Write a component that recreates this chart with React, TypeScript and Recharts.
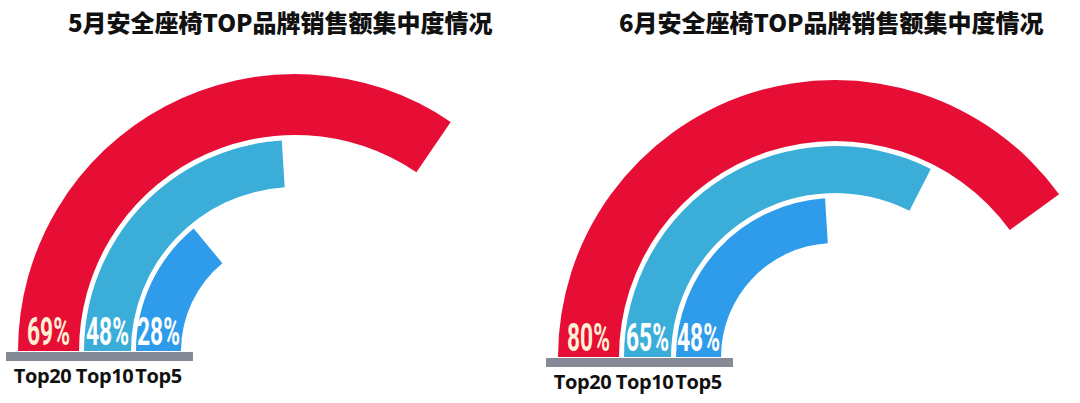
import React from "react";
import { RadialBarChart, RadialBar, PolarAngleAxis, LabelList } from "recharts";

// outer ring first, as in the legend under each gauge
const brands = ["Top20", "Top10", "Top5"];
const mayShare = [69, 48, 28];
const juneShare = [80, 65, 48];
const titles = [
  "5月安全座椅TOP品牌销售额集中度情况",
  "6月安全座椅TOP品牌销售额集中度情况",
];

const ringColor: Record<string, string> = {
  Top20: "#e60e34",
  Top10: "#3aaed8",
  Top5: "#2e9cea",
};
const ringWidth: Record<string, number> = { Top20: 61, Top10: 47, Top5: 45 };
const valueColor: Record<string, string> = {
  Top20: "#fff0d4",
  Top10: "#ffffff",
  Top5: "#ffffff",
};
// small nudge so the names under the gauge don't run together
const nameShift: Record<string, number> = { Top20: -6, Top10: -3, Top5: 0 };

const makeLabel = (name: string) => (props: any) => {
  const vb = props.viewBox ?? props;
  const { cx, cy, innerRadius, outerRadius } = vb;
  if (cx == null) return null;
  const x = cx - (innerRadius + outerRadius) / 2;
  return (
    <g>
      <text
        transform={`translate(${x},${cy - 6}) scale(0.6,1)`}
        textAnchor="middle"
        fill={valueColor[name]}
        fontSize={38}
        fontWeight={700}
        fontFamily="Roboto"
      >
        {props.value}%
      </text>
      <text
        x={x + nameShift[name]}
        y={cy + 32}
        textAnchor="middle"
        fill="#111"
        fontSize={20}
        fontWeight={700}
        fontFamily="'Open Sans'"
        letterSpacing={-0.4}
      >
        {name}
      </text>
    </g>
  );
};

function Gauge({
  title,
  values,
  cy,
  titleLeft,
}: {
  title: string;
  values: number[];
  cy: number;
  titleLeft: number;
}) {
  const row: Record<string, number> = {};
  brands.forEach((b, i) => (row[b] = values[i]));
  const cx = 295;
  // inner ring is the first series
  const order = [...brands].reverse();

  return (
    <div style={{ position: "relative", width: 540, height: 403 }}>
      <div
        style={{
          position: "absolute",
          left: titleLeft,
          top: 5,
          fontFamily: "'Noto Sans CJK SC'",
          fontWeight: 900,
          fontSize: 24,
          lineHeight: "34px",
          color: "#111",
          whiteSpace: "nowrap",
        }}
      >
        {title}
      </div>
      <div
        style={{
          position: "absolute",
          left: cx - 289,
          top: cy + 1,
          width: 187,
          height: 9,
          background: "#868a96",
        }}
      />
      <div style={{ position: "absolute", left: 0, top: 0 }}>
        <RadialBarChart
          width={540}
          height={403}
          data={[row]}
          cx={cx}
          cy={cy}
          innerRadius={110}
          outerRadius={281}
          startAngle={180}
          endAngle={0}
          barGap={5}
          margin={{ top: 0, right: 0, bottom: 0, left: 0 }}
        >
          <PolarAngleAxis
            type="number"
            domain={[0, 100]}
            tick={false}
            axisLine={false}
          />
          {order.map((b) => (
            <RadialBar
              key={b}
              dataKey={b}
              barSize={ringWidth[b]}
              fill={ringColor[b]}
              isAnimationActive={false}
            >
              <LabelList dataKey={b} content={makeLabel(b)} />
            </RadialBar>
          ))}
        </RadialBarChart>
      </div>
    </div>
  );
}

export default function App() {
  return (
    <div
      style={{
        position: "absolute",
        left: 0,
        top: 0,
        width: 1080,
        height: 403,
        background: "#fff",
        display: "flex",
      }}
    >
      <Gauge title={titles[0]} values={mayShare} cy={351} titleLeft={68} />
      <Gauge title={titles[1]} values={juneShare} cy={357} titleLeft={79} />
    </div>
  );
}
